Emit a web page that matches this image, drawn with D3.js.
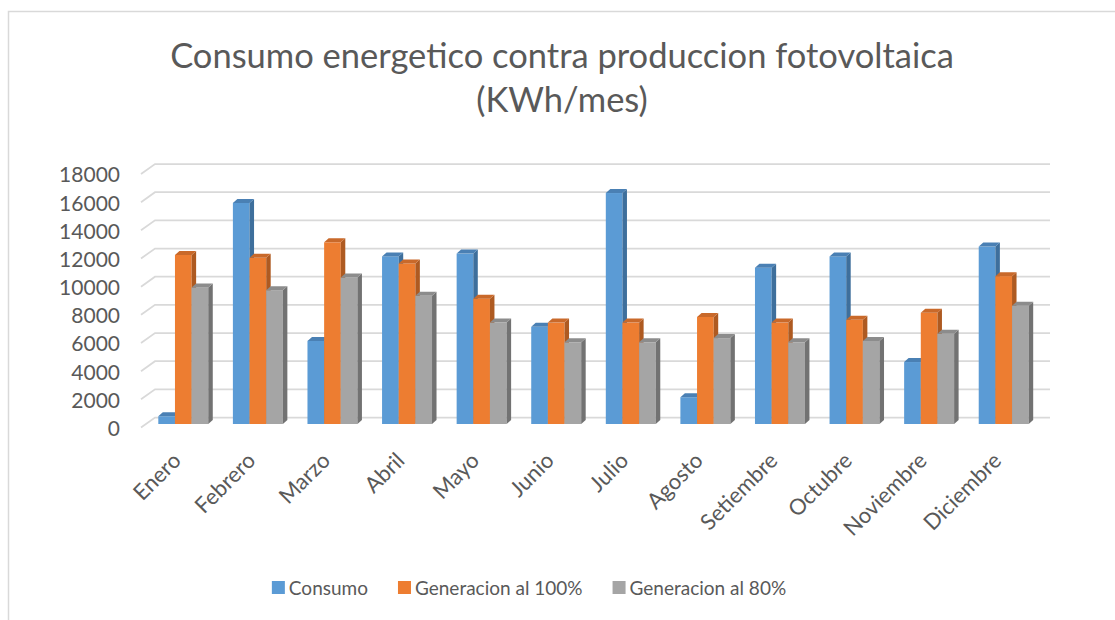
<!DOCTYPE html>
<html lang="es">

<head>
    <meta charset="UTF-8">
    <title>Consumo energetico contra produccion fotovoltaica</title>
    <script src="https://d3js.org/d3.v7.min.js"></script>
    <style>
        body {
            margin: 0;
            background: #fff;
        }

        text {
            font-family: Lato, "Open Sans", sans-serif;
            fill: #595959;
        }
    </style>
</head>

<body>
    <div id="chart"></div>

    <script>
        const months = ['Enero', 'Febrero', 'Marzo', 'Abril', 'Mayo', 'Junio', 'Julio',
            'Agosto', 'Setiembre', 'Octubre', 'Noviembre', 'Diciembre'];
        const seriesNames = ['Consumo', 'Generacion al 100%', 'Generacion al 80%'];
        const consumo = [550, 15700, 5900, 11900, 12100, 6900, 16400, 1900, 11100, 11900, 4400, 12600];
        const gen100 = [12000, 11800, 12900, 11400, 8900, 7200, 7200, 7600, 7200, 7400, 7900, 10500];
        const gen80 = [9700, 9500, 10400, 9100, 7200, 5800, 5800, 6100, 5800, 5900, 6400, 8400];
        const yTicks = [0, 2000, 4000, 6000, 8000, 10000, 12000, 14000, 16000, 18000];

        const series = [consumo, gen100, gen80];
        const frontColors = ['#5b9bd5', '#ed7d31', '#a5a5a5'];
        const sideColors = ['#3e6f9c', '#ae5a21', '#727272'];
        const topColors = ['#4a80b4', '#c9692a', '#8c8c8c'];

        const width = 1115;
        const height = 620;

        const svg = d3.select('#chart')
            .append('svg')
            .attr('width', width)
            .attr('height', height);

        svg.append('rect')
            .attr('width', width)
            .attr('height', height)
            .attr('fill', '#fff');

        // outer frame (only left and top edges are visible)
        svg.append('path')
            .attr('d', `M8.5,${height} V11.5 H${width}`)
            .attr('fill', 'none')
            .attr('stroke', '#d9d9d9')
            .attr('stroke-width', 1.5);

        // back wall scales
        const x = d3.scaleBand()
            .domain(months)
            .range([155, 1050])
            .paddingInner(0.33)
            .paddingOuter(0.165);

        const y = d3.scaleLinear()
            .domain([0, 18000])
            .range([417.5, 164]);

        // floor depth: front edge and the plane the bars sit in
        const floorDx = -14, floorDy = 10;
        const barDx = -9, barDy = 6.5;
        const depthX = 4.5, depthY = 4;

        const grid = svg.append('g')
            .attr('fill', 'none')
            .attr('stroke', '#d9d9d9')
            .attr('stroke-width', 1.75);

        grid.selectAll('path')
            .data(yTicks)
            .join('path')
            .attr('d', d => `M${155 + floorDx},${y(d) + floorDy} L155,${y(d)} H1050`);

        svg.append('g')
            .selectAll('text')
            .data(yTicks)
            .join('text')
            .attr('x', 120)
            .attr('y', d => y(d) + floorDy + 1)
            .attr('dy', '0.35em')
            .attr('text-anchor', 'end')
            .attr('font-size', 21)
            .text(d => d);

        // bars
        const bw = x.bandwidth() / 3;
        const base = y(0) + barDy;

        const bars = svg.append('g');
        months.forEach((m, mi) => {
            series.forEach((s, si) => {
                const x0 = x(m) + barDx + si * bw;
                const x1 = x0 + bw;
                const yt = y(s[mi]) + barDy;
                const g = bars.append('g');
                g.append('rect')
                    .attr('x', x0)
                    .attr('y', yt)
                    .attr('width', bw)
                    .attr('height', base - yt)
                    .attr('fill', frontColors[si]);
                g.append('path')
                    .attr('d', `M${x1},${yt} L${x1 + depthX},${yt - depthY} V${base - depthY} L${x1},${base} Z`)
                    .attr('fill', sideColors[si]);
                g.append('path')
                    .attr('d', `M${x0},${yt} L${x0 + depthX},${yt - depthY} H${x1 + depthX} L${x1},${yt} Z`)
                    .attr('fill', topColors[si]);
            });
        });

        // category labels
        svg.append('g')
            .selectAll('text')
            .data(months)
            .join('text')
            .attr('text-anchor', 'end')
            .attr('font-size', 22)
            .attr('transform', d => `translate(${x(d) + x.bandwidth() / 2 + floorDx + 4},${462}) rotate(-45)`)
            .text(d => d);

        // title
        const title = svg.append('g')
            .attr('text-anchor', 'middle')
            .attr('font-size', 34.5);
        title.append('text')
            .attr('x', 562)
            .attr('y', 68)
            .text('Consumo energetico contra produccion fotovoltaica');
        title.append('text')
            .attr('x', 562)
            .attr('y', 112)
            .text('(KWh/mes)');

        // legend
        const legend = svg.append('g');
        let lx = 0;
        seriesNames.forEach((name, i) => {
            const item = legend.append('g').attr('transform', `translate(${lx},0)`);
            item.append('rect')
                .attr('x', 0)
                .attr('y', -7)
                .attr('width', 13)
                .attr('height', 13)
                .attr('fill', frontColors[i]);
            const t = item.append('text')
                .attr('x', 17)
                .attr('dy', '0.35em')
                .attr('font-size', 19)
                .text(name);
            lx += 17 + t.node().getComputedTextLength() + 30;
        });
        const legendW = lx - 30;
        legend.attr('transform', `translate(${529 - legendW / 2},588)`);
    </script>
</body>

</html>
